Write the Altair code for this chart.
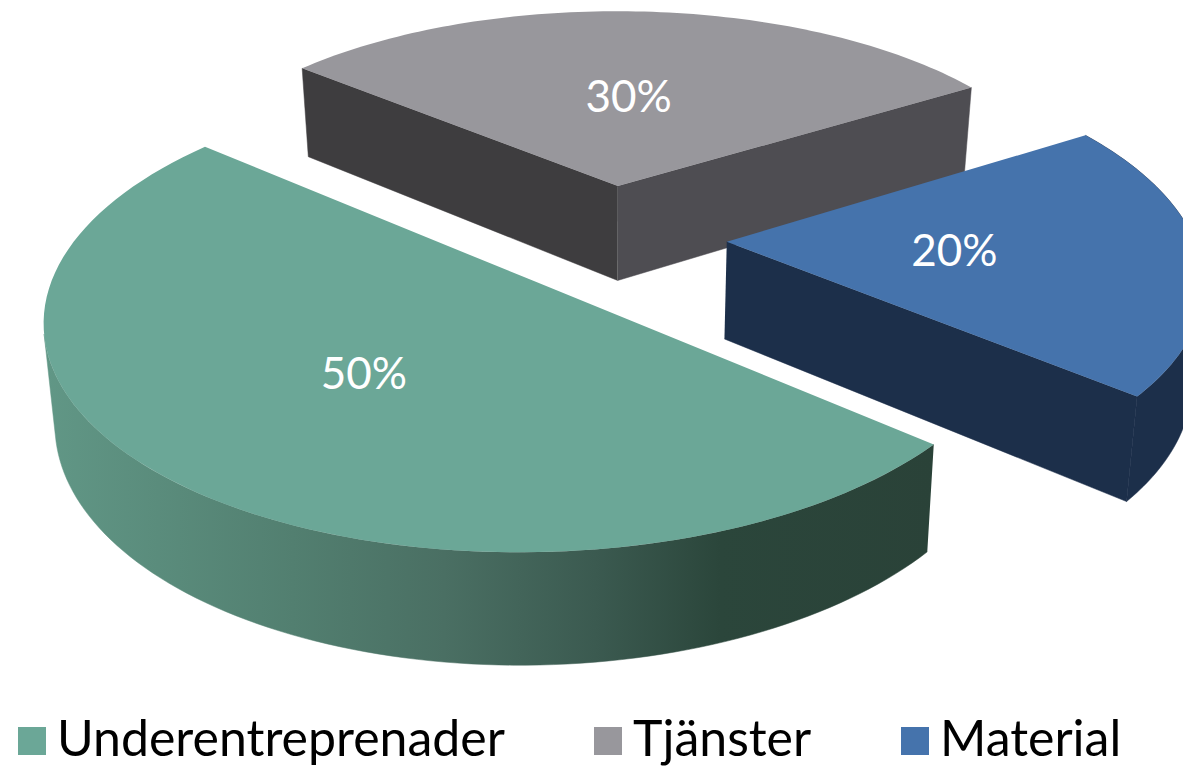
import math
import altair as alt
import pandas as pd

# --- chart values -----------------------------------------------------------
categories = ["Underentreprenader", "Tjänster", "Material"]
shares = [50, 30, 20]
labels = ["50%", "30%", "20%"]
top_colors = ["#6BA797", "#98979C", "#4573AC"]

# --- 3-D pie camera ---------------------------------------------------------
START = 40.0      # first slice starts here (degrees, clockwise on screen)
EXPLODE = 0.25    # slice explosion, in radii
XC, YC = 610.0, 238.0
RADIUS = 467.0
TILT = 216.0
PERSP = 0.152
LABEL_R = 0.49


def scale_at(v):
    return 1.0 / (1.0 - PERSP * v)


def top(u, v):
    s = scale_at(v)
    return XC + RADIUS * s * u, YC + TILT * s * v


def bottom(u, v):
    s = scale_at(v)
    x, y = top(u, v)
    return XC + (x - XC) * 0.98, y + 25 + 72 * s


slices = []
a = START
for name, share, label in zip(categories, shares, labels):
    sweep = share * 3.6
    mid = math.radians(a + sweep / 2)
    apex = (EXPLODE * math.cos(mid), EXPLODE * math.sin(mid))
    slices.append(dict(name=name, label=label, start=a, end=a + sweep, mid=mid, apex=apex))
    a += sweep


def rim_point(s, ang):
    r = math.radians(ang)
    return s["apex"][0] + math.cos(r), s["apex"][1] + math.sin(r)


def rim(s, a0, a1, n=90):
    return [rim_point(s, a0 + (a1 - a0) * i / n) for i in range(n + 1)]


def silhouette_angle(s):
    """Rim angle where the rim runs parallel to the extrusion (left outline)."""
    def lean(ang):
        p = rim_point(s, ang)
        tx, ty = top(*p)
        bx, by = bottom(*p)
        return tx - (bx - tx) / (by - ty) * ty
    return min(range(int(s["start"]), int(s["end"]) + 1), key=lean)


def frame(pts):
    return pd.DataFrame([{"x": p[0], "y": p[1], "o": i} for i, p in enumerate(pts)])


x_scale = alt.Scale(domain=[8, 1183], range=[0, 1175], nice=False, zero=False)
y_scale = alt.Scale(domain=[8, 767], range=[0, 759], nice=False, zero=False)
X = alt.X("x:Q", scale=x_scale, axis=None)
Y = alt.Y("y:Q", scale=y_scale, axis=None)


def face(pts, fill):
    return (
        alt.Chart(frame(pts))
        .mark_line(fill=fill, stroke=fill, strokeWidth=0.5, clip=True)
        .encode(x=X, y=Y, order=alt.Order("o:Q"))
    )


def side_pts(s, a0, a1):
    r = rim(s, a0, a1)
    return [top(*p) for p in r] + [bottom(*p) for p in reversed(r)]


def cut_pts(s, ang):
    edge = rim_point(s, ang)
    return [top(*s["apex"]), top(*edge), bottom(*edge), bottom(*s["apex"])]


green, gray, blue = slices

green_grad = alt.Gradient(
    gradient="linear",
    x1=0, x2=1, y1=0, y2=0,
    stops=[
        alt.GradientStop(offset=0.0, color="#619786"),
        alt.GradientStop(offset=0.28, color="#527F70"),
        alt.GradientStop(offset=0.45, color="#4A6F63"),
        alt.GradientStop(offset=0.62, color="#3B5A50"),
        alt.GradientStop(offset=0.76, color="#2B463B"),
        alt.GradientStop(offset=1.0, color="#2A4238"),
    ],
)

layers = [
    face(cut_pts(gray, gray["start"]), "#3E3D3F"),
    face(cut_pts(gray, gray["end"]), "#4E4D52"),
    face(side_pts(blue, blue["start"], blue["end"]), "#1C2F4A"),
    face(cut_pts(blue, blue["end"]), "#1C2F4A"),
    face(side_pts(green, green["start"], silhouette_angle(green)), green_grad),
]

top_rows = []
for s in slices:
    pts = [top(*s["apex"])] + [top(*p) for p in rim(s, s["start"], s["end"])]
    for i, p in enumerate(pts):
        top_rows.append({"x": p[0], "y": p[1], "o": i, "name": s["name"]})

color_scale = alt.Scale(domain=categories, range=top_colors)
layers.append(
    alt.Chart(pd.DataFrame(top_rows))
    .mark_line(strokeWidth=0, clip=True, filled=True)
    .encode(
        x=X,
        y=Y,
        order=alt.Order("o:Q"),
        detail="name:N",
        fill=alt.Fill(
            "name:N",
            scale=color_scale,
            legend=alt.Legend(
                title=None,
                orient="none",
                legendX=-1,
                legendY=708,
                direction="horizontal",
                columns=3,
                symbolType="square",
                symbolSize=784,
                symbolStrokeWidth=0,
                labelFontSize=50,
                labelFont="Lato",
                labelColor="#000000",
                labelLimit=600,
                labelOffset=0,
                columnPadding=78,
                padding=0,
            ),
        ),
    )
)

label_rows = []
for s in slices:
    u = s["apex"][0] + LABEL_R * math.cos(s["mid"])
    v = s["apex"][1] + LABEL_R * math.sin(s["mid"])
    x, y = top(u, v)
    label_rows.append({"x": x, "y": y, "label": s["label"]})

layers.append(
    alt.Chart(pd.DataFrame(label_rows))
    .mark_text(font="Lato", fontSize=44, color="#FFFFFF", align="center", baseline="middle", dx=-3, dy=4)
    .encode(x=X, y=Y, text="label:N")
)

chart = (
    alt.layer(*layers)
    .properties(width=1175, height=759, padding=0, autosize=alt.AutoSizeParams(type="none"), background="#FFFFFF")
    .configure_view(stroke=None)
)

chart.save("out.html", embed_options={"renderer": "svg", "actions": False})
